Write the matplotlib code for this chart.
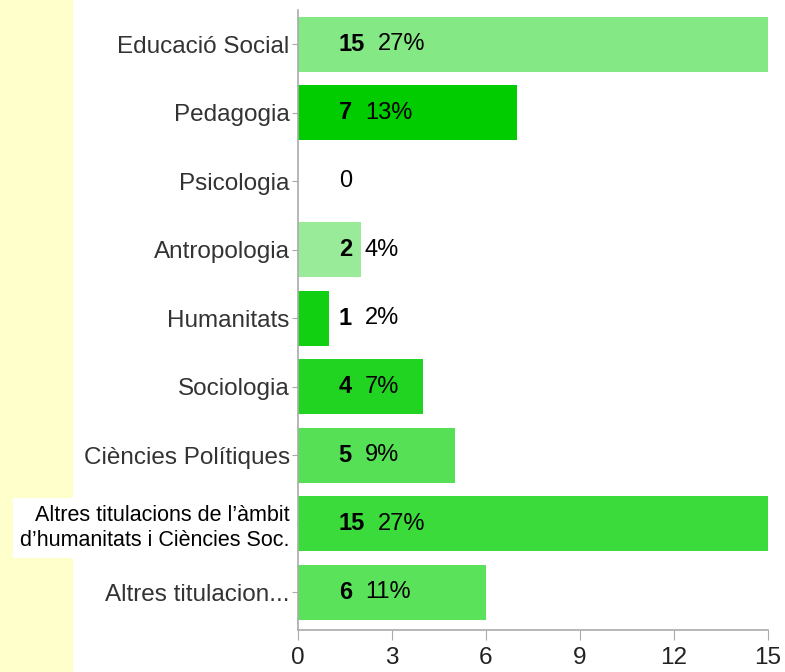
import matplotlib.pyplot as plt
from matplotlib.patches import Rectangle

categories = ["Educació Social", "Pedagogia", "Psicologia", "Antropologia",
              "Humanitats", "Sociologia", "Ciències Polítiques",
              "Altres titulacions de l\u2019àmbit\nd\u2019humanitats i Ciències Soc.",
              "Altres titulacion..."]
counts = [15, 7, 0, 2, 1, 4, 5, 15, 6]
percents = ["27%", "13%", "", "4%", "2%", "7%", "9%", "27%", "11%"]
colors = ["#84e884", "#00cc00", "#00cc00", "#99ea99", "#11d011",
          "#22d422", "#55e055", "#3cdb3c", "#5ae35a"]
xticks = [0, 3, 6, 9, 12, 15]

plt.rcParams['font.family'] = ['Liberation Sans', 'DejaVu Sans']

fig = plt.figure(figsize=(7.85, 6.72), dpi=100)
# yellow strip on the left, behind everything
fig.add_artist(Rectangle((0, 0), 73 / 785, 1, transform=fig.transFigure,
                         facecolor="#ffffcc", edgecolor="none", zorder=-1))

ax = fig.add_axes([298 / 785, 42 / 672, 470 / 785, 620 / 672])
y = list(range(len(categories)))
ax.barh(y, counts, height=0.8, color=colors, zorder=2)

ax.set_xlim(0, 15)
ax.set_ylim(8.55, -0.5)
ax.set_xticks(xticks)
ax.set_xticklabels([str(t) for t in xticks], fontsize=17.5, color="#222222")
ax.set_yticks(y)
ax.set_yticklabels(categories, fontsize=17.5, color="#333333")

for s in ["top", "right"]:
    ax.spines[s].set_visible(False)
for s in ["left", "bottom"]:
    ax.spines[s].set_color("#aaaaaa")
    ax.spines[s].set_linewidth(1.2)
ax.tick_params(axis="y", length=4, color="#aaaaaa", pad=2)
ax.tick_params(axis="x", length=7, color="#aaaaaa", pad=5)

# the long label sits on a white box, black text
long_lbl = ax.get_yticklabels()[7]
long_lbl.set_color("black")
long_lbl.set_fontsize(15.5)
long_lbl.set_linespacing(1.25)
long_lbl.set_bbox(dict(facecolor="white", edgecolor="none", pad=5))

for i, (c, p) in enumerate(zip(counts, percents)):
    if c == 0:
        ax.text(1.3, i, "0", fontsize=17, va="center", ha="left", zorder=3)
        continue
    t = ax.text(1.3, i, str(c), fontsize=17, fontweight="bold",
                va="center", ha="left", zorder=3)
    ax.annotate(p, xy=(1, 0.5), xycoords=t, xytext=(13, 0),
                textcoords="offset pixels", fontsize=17, va="center",
                ha="left", zorder=3)

fig.savefig("out.png", dpi=100)
